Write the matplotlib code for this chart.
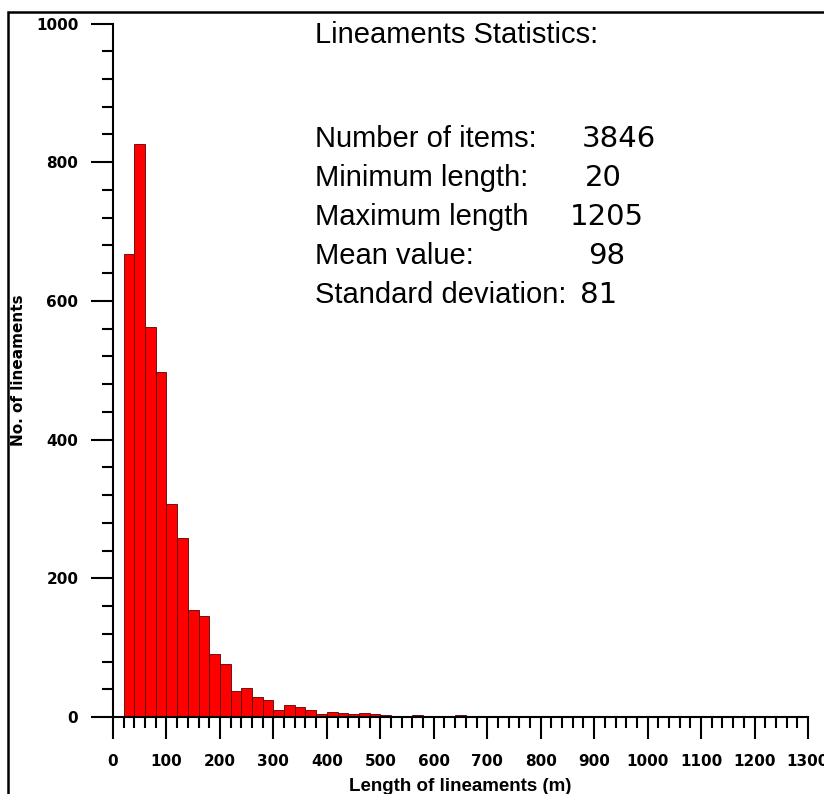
import matplotlib
matplotlib.use("Agg")
import matplotlib.pyplot as plt
from matplotlib.patches import Rectangle
from matplotlib.ticker import MultipleLocator

# histogram of lineament lengths, bins of 20 m
bin_left = [20, 40, 60, 80, 100, 120, 140, 160, 180, 200, 220, 240, 260, 280,
            300, 320, 340, 360, 380, 400, 420, 440, 460, 480, 500, 520, 540,
            560, 580, 600, 620, 640, 1200]
counts = [668, 826, 562, 497, 307, 258, 154, 145, 91, 76, 38, 42, 29, 25,
          10, 17, 14, 10, 4, 7, 6, 5, 6, 4, 3, 1, 2,
          3, 1, 1, 1, 3, 1]
bin_width = 20

stat_title = "Lineaments Statistics:"
stat_names = ["Number of items:", "Minimum length:", "Maximum length",
              "Mean value:", "Standard deviation:"]
stat_values = ["3846", "20", "1205", "98", "81"]

plt.rcParams['font.family'] = ['Liberation Sans', 'DejaVu Sans']

W, H = 824, 794
fig = plt.figure(figsize=(W / 100, H / 100), dpi=100)
ax = fig.add_axes([113 / W, 1 - 717 / H, (808 - 113) / W, (717 - 23.5) / H])

ax.bar(bin_left, counts, width=bin_width, align='edge', color='#ff0000',
       edgecolor='#5a0000', linewidth=0.6)

ax.set_xlim(0, 1300)
ax.set_ylim(0, 1000)
ax.xaxis.set_major_locator(MultipleLocator(100))
ax.xaxis.set_minor_locator(MultipleLocator(20))
ax.yaxis.set_major_locator(MultipleLocator(200))
ax.yaxis.set_minor_locator(MultipleLocator(40))

for s in ['top', 'right']:
    ax.spines[s].set_visible(False)
for s in ['left', 'bottom']:
    ax.spines[s].set_linewidth(1.5)

ax.tick_params(which='major', direction='out', length=16, width=1.5)
ax.tick_params(which='minor', direction='out', length=8, width=1.5)
ax.tick_params(axis='y', which='major', pad=9)
ax.tick_params(axis='x', which='major', pad=11)
for lab in ax.get_xticklabels() + ax.get_yticklabels():
    lab.set_fontfamily('DejaVu Sans')
    lab.set_fontweight('bold')
    lab.set_fontsize(11)

ax.set_xlabel("Length of lineaments (m)", fontsize=13.5, fontweight='bold',
              labelpad=6)
ax.set_ylabel("No. of lineaments", fontsize=11, fontweight='bold',
              family='DejaVu Sans', labelpad=7)

# statistics block
fig.text(315 / W, 1 - 43 / H, stat_title, fontsize=21, va='baseline')
value_x = [582, 585, 570, 588, 580]
for i, (name, val) in enumerate(zip(stat_names, stat_values)):
    yb = 1 - (147 + i * 39) / H
    fig.text(315 / W, yb, name, fontsize=21, va='baseline')
    fig.text(value_x[i] / W, yb, val, fontsize=21, va='baseline',
             family='DejaVu Sans')

# outer frame (cut off at right and bottom like the source image)
fig.add_artist(Rectangle((8 / W, -0.05), 1.1, 1 - 12 / H + 0.05,
                         transform=fig.transFigure, fill=False,
                         edgecolor='black', linewidth=1.8, clip_on=False))

fig.savefig("out.png", dpi=100)
